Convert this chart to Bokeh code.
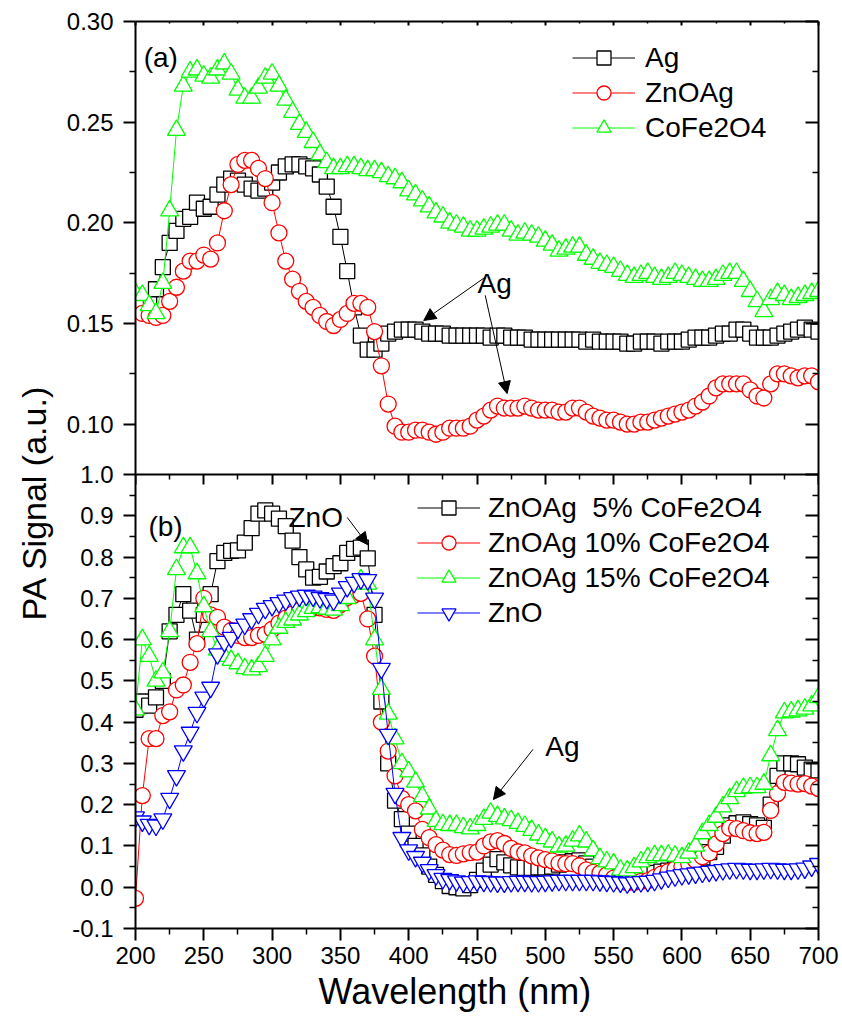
from bokeh.plotting import figure
from bokeh.models import (Range1d, LinearAxis, FixedTicker, CustomJSTickFormatter,
                          Legend, LegendItem, Label, Arrow, NormalHead, Title)
from bokeh.embed import file_html
from bokeh.resources import INLINE

# ---------------- data ----------------
wavelength = list(range(200, 701, 5))

a_ag = [.160, .158, .160, .167, .178, .190, .196, .202, .203, .210,
        .207, .208, .214, .219, .222, .221, .219, .217, .216, .217,
        .220, .225, .228, .229, .229, .228, .227, .224, .218, .208,
        .193, .176, .158, .144, .137, .137, .140, .145, .146, .147,
        .147, .147, .146, .145, .145, .145, .144, .144, .144, .144,
        .144, .144, .143, .144, .144, .143, .143, .143, .142, .142,
        .142, .142, .142, .142, .142, .142, .141, .142, .141, .141,
        .141, .141, .140, .140, .141, .141, .141, .140, .141, .141,
        .141, .142, .143, .143, .143, .144, .145, .145, .147, .147,
        .145, .143, .143, .143, .144, .145, .146, .147, .148, .147,
        .146]
a_znoag = [.160, .155, .154, .153, .154, .161, .168, .176, .181, .181,
           .184, .182, .190, .206, .219, .229, .231, .231, .227, .222,
           .210, .195, .181, .172, .166, .161, .158, .154, .151, .149,
           .152, .155, .160, .160, .158, .146, .129, .110, .099, .096,
           .096, .097, .097, .096, .095, .096, .098, .098, .098, .099,
           .102, .104, .107, .109, .108, .108, .108, .109, .108, .107,
           .107, .107, .106, .106, .108, .108, .106, .104, .103, .102,
           .102, .101, .100, .100, .101, .101, .102, .103, .104, .105,
           .106, .107, .109, .111, .114, .118, .120, .120, .120, .120,
           .117, .114, .113, .120, .125, .125, .124, .123, .124, .124,
           .121]
a_cofe = [.165, .164, .159, .155, .170, .206, .246, .268, .275, .276,
          .273, .272, .276, .279, .274, .266, .262, .262, .267, .272,
          .274, .268, .261, .255, .249, .245, .240, .234, .230, .227,
          .227, .228, .228, .227, .226, .226, .225, .223, .222, .220,
          .216, .214, .211, .208, .205, .203, .200, .199, .198, .196,
          .196, .197, .198, .199, .199, .196, .194, .195, .194, .193,
          .191, .189, .186, .187, .188, .188, .184, .182, .180, .179,
          .178, .176, .174, .173, .174, .175, .173, .172, .173, .175,
          .174, .173, .172, .171, .171, .172, .174, .175, .175, .171,
          .166, .161, .156, .162, .165, .164, .162, .163, .164, .165,
          .166]

b_5 = [.43, .45, .44, .46, .50, .62, .66, .71, .67, .60,
       .66, .71, .79, .81, .815, .816, .835, .87, .905, .913,
       .905, .893, .875, .84, .80, .77, .75, .752, .765, .778,
       .785, .81, .82, .823, .797, .66, .45, .30, .21, .165,
       .13, .10, .077, .05, .03, .015, .003, .0, -.003, .005,
       .018, .04, .055, .068, .06, .053, .048, .047, .047, .048,
       .048, .05, .055, .06, .063, .065, .058, .05, .042, .038,
       .03, .025, .025, .028, .032, .034, .035, .038, .04, .043,
       .046, .05, .06, .072, .085, .098, .125, .15, .155, .157,
       .153, .15, .144, .20, .27, .30, .30, .298, .29, .285,
       .283]
b_10 = [-.027, .222, .36, .36, .416, .425, .478, .49, .545, .59,
        .70, .66, .654, .63, .622, .61, .605, .605, .61, .613,
        .625, .64, .652, .662, .67, .675, .677, .677, .673, .671,
        .685, .702, .708, .712, .65, .56, .40, .33, .27, .215,
        .20, .185, .14, .12, .103, .09, .079, .077, .081, .084,
        .085, .10, .11, .113, .106, .094, .086, .083, .076, .071,
        .067, .064, .058, .057, .057, .052, .042, .036, .034, .03,
        .022, .015, .011, .012, .014, .016, .024, .032, .038, .044,
        .05, .057, .065, .074, .083, .105, .13, .143, .142, .137,
        .132, .13, .133, .186, .227, .254, .252, .25, .251, .245,
        .239]
b_15 = [.43, .60, .56, .50, .52, .62, .77, .823, .823, .76,
        .68, .62, .575, .56, .55, .542, .53, .527, .535, .56,
        .60, .628, .642, .648, .66, .668, .676, .678, .674, .672,
        .683, .70, .735, .745, .735, .60, .48, .42, .36, .30,
        .28, .255, .22, .19, .16, .152, .15, .15, .145, .142,
        .15, .165, .18, .172, .166, .162, .155, .148, .138, .127,
        .118, .11, .098, .10, .112, .125, .11, .089, .07, .062,
        .057, .042, .04, .048, .062, .072, .077, .077, .078, .076,
        .072, .083, .10, .13, .15, .17, .195, .215, .232, .24,
        .242, .242, .25, .319, .38, .423, .425, .428, .432, .44,
        .46]
b_zno = [.17, .16, .152, .15, .165, .215, .27, .33, .375, .423,
         .46, .484, .565, .595, .605, .627, .637, .65, .663, .675,
         .682, .689, .695, .701, .705, .707, .705, .701, .699, .695,
         .712, .728, .738, .747, .745, .70, .53, .37, .227, .12,
         .09, .074, .06, .042, .03, .021, .018, .015, .012, .013,
         .015, .014, .013, .012, .012, .013, .014, .014, .013, .013,
         .014, .015, .016, .016, .016, .016, .016, .016, .015, .014,
         .013, .012, .01, .012, .013, .014, .016, .02, .024, .027,
         .03, .032, .034, .036, .038, .04, .042, .044, .045, .044,
         .043, .043, .044, .045, .044, .043, .043, .044, .046, .051,
         .057]

labels_a = ["Ag", "ZnOAg", "CoFe2O4"]
labels_b = ["ZnOAg  5% CoFe2O4", "ZnOAg 10% CoFe2O4", "ZnOAg 15% CoFe2O4", "ZnO"]

x_ticks = [200, 250, 300, 350, 400, 450, 500, 550, 600, 650, 700]
x_minor = [225, 275, 325, 375, 425, 475, 525, 575, 625, 675]
a_ticks = [0.10, 0.15, 0.20, 0.25, 0.30]
a_minor = [0.125, 0.175, 0.225, 0.275]
b_ticks = [-0.1, 0.0, 0.1, 0.2, 0.3, 0.4, 0.5, 0.6, 0.7, 0.8, 0.9, 1.0]
b_minor = [-0.05, 0.05, 0.15, 0.25, 0.35, 0.45, 0.55, 0.65, 0.75, 0.85, 0.95]

# ---------------- layout ----------------
W, H = 842, 1028
LEFT, RIGHT, TOP, BOTTOM = 135, 24, 21, 100
frame_h = H - TOP - BOTTOM          # 907
split = 453                          # px from top of frame where panels meet
A_LO, A_HI = 0.075, 0.30
B_LO, B_HI = -0.1, 1.0
b_top = B_LO + (B_HI - B_LO) * frame_h / (frame_h - split)
a_bot = A_HI - (A_HI - A_LO) * frame_h / split
scale_ab = (b_top - B_HI) / (A_HI - A_LO)   # panel-b units per panel-a unit

FONT = "Liberation Sans"

p = figure(width=W, height=H, x_range=Range1d(200, 700), y_range=Range1d(B_LO, b_top),
           x_axis_type=None, y_axis_type=None, output_backend="svg", toolbar_location=None,
           min_border_left=LEFT, min_border_right=RIGHT, min_border_top=TOP,
           min_border_bottom=BOTTOM, background_fill_color="white", border_fill_color="white")
p.outline_line_color = None
p.extra_y_ranges = {"a": Range1d(a_bot, A_HI)}

blank = CustomJSTickFormatter(code="return ''")


def style(ax, mj_in, mj_out, mn_in, mn_out, show=True):
    ax.axis_line_width = 2
    ax.axis_line_color = "black"
    ax.major_tick_line_width = 2
    ax.minor_tick_line_width = 1.5
    ax.major_tick_line_color = "black"
    ax.minor_tick_line_color = "black"
    ax.major_tick_in = mj_in
    ax.major_tick_out = mj_out
    ax.minor_tick_in = mn_in
    ax.minor_tick_out = mn_out
    if show:
        ax.major_label_text_font = FONT
        ax.major_label_text_font_size = "24px"
        ax.major_label_text_color = "black"
    else:
        ax.formatter = blank
        ax.major_label_text_font_size = "1px"
        ax.major_label_standoff = 0


# y positions of panel-(a) ticks expressed on the shared vertical scale
left_ticks = b_ticks + [B_HI + (t - A_LO) * scale_ab for t in a_ticks]
left_minor = b_minor + [B_HI + (t - A_LO) * scale_ab for t in a_minor]
two_panel_fmt = CustomJSTickFormatter(
    args=dict(bhi=B_HI, alo=A_LO, s=scale_ab),
    code="if (tick > bhi + 1e-6) { return ((tick - bhi) / s + alo).toFixed(2) } "
         "return Math.abs(tick) < 1e-9 ? '0.0' : tick.toFixed(1)")

# bottom x axis
xb = LinearAxis(ticker=FixedTicker(ticks=x_ticks, minor_ticks=x_minor))
style(xb, 0, 12, 0, 6)
xb.major_label_standoff = 6
p.add_layout(xb, "below")

# top x axis
xt = LinearAxis(ticker=FixedTicker(ticks=x_ticks, minor_ticks=x_minor))
style(xt, 4, 0, 2, 0, show=False)
p.add_layout(xt, "above")

# divider between panels
xm = LinearAxis(ticker=FixedTicker(ticks=x_ticks, minor_ticks=x_minor), fixed_location=B_HI)
style(xm, 0, 10, 0, 5, show=False)
p.add_layout(xm, "below")

# left axis (both panels)
yb = LinearAxis(ticker=FixedTicker(ticks=left_ticks, minor_ticks=left_minor),
                formatter=two_panel_fmt)
style(yb, 0, 12, 0, 6)
yb.major_label_standoff = 10
p.add_layout(yb, "left")

# right axis (both panels)
ybr = LinearAxis(ticker=FixedTicker(ticks=left_ticks, minor_ticks=left_minor))
style(ybr, 13, 0, 6, 0, show=False)
p.add_layout(ybr, "right")

# axis titles
p.add_layout(Title(text="Wavelength (nm)", align="left", offset=183, standoff=4,
                   text_font=FONT, text_font_size="36px", text_font_style="normal",
                   text_color="black"), "below")
p.add_layout(Title(text="PA Signal (a.u.)", align="left", offset=308, standoff=22,
                   text_font=FONT, text_font_size="34px", text_font_style="normal",
                   text_color="black"), "left")

# ---------------- series ----------------
def series(y, color, marker, size, rng=None):
    kw = {"y_range_name": rng} if rng else {}
    l = p.line(wavelength, y, line_color=color, line_width=1, **kw)
    s = p.scatter(wavelength, y, marker=marker, size=size, line_color=color,
                  fill_color="white", line_width=1.3, **kw)
    return [l, s]

ra = [series(a_ag, "black", "square", 15, "a"),
      series(a_znoag, "#ff0000", "circle", 16, "a"),
      series(a_cofe, "#00ff00", "triangle", 18, "a")]
rb = [series(b_5, "black", "square", 15),
      series(b_10, "#ff0000", "circle", 16),
      series(b_15, "#00ff00", "triangle", 18),
      series(b_zno, "#0000ff", "inverted_triangle", 18)]


def make_legend(labels, rends, loc, standoff):
    leg = Legend(items=[LegendItem(label=t, renderers=r) for t, r in zip(labels, rends)],
                 location=loc, orientation="vertical")
    leg.border_line_color = None
    leg.background_fill_alpha = 0
    leg.padding = 0
    leg.margin = 0
    leg.spacing = 0
    leg.glyph_width = 63
    leg.glyph_height = 35
    leg.label_height = 35
    leg.label_standoff = standoff
    leg.label_text_font = FONT
    leg.label_text_font_size = "28px"
    leg.label_text_color = "black"
    return leg

p.add_layout(make_legend(labels_a, ra, (437, 783), 10))
p.add_layout(make_legend(labels_b, rb, (282, 298), 8))

# ---------------- annotations ----------------
def lab(x, y, text, rng=None):
    kw = {"y_range_name": rng} if rng else {}
    p.add_layout(Label(x=x, y=y, text=text, text_font=FONT, text_font_size="28px",
                       text_color="black", text_baseline="alphabetic", text_align="left", **kw))

lab(206, 0.282, "(a)", "a")
lab(450.4, 0.170, "Ag", "a")
lab(209.5, 0.874, "(b)")
lab(312, 0.896, "ZnO")
lab(500, 0.341, "Ag")


def arrow(x0, y0, x1, y1, rng=None):
    kw = {"y_range_name": rng} if rng else {}
    p.add_layout(Arrow(x_start=x0, y_start=y0, x_end=x1, y_end=y1, line_width=1,
                       line_color="black",
                       end=NormalHead(size=12, fill_color="black", line_color="black"), **kw))

arrow(456, 0.173, 411, 0.1515, "a")
arrow(456, 0.164, 472, 0.1152, "a")
arrow(355, 0.896, 370, 0.830)
arrow(491, 0.334, 462, 0.2125)

open("out.html", "w").write(file_html(p, INLINE))
